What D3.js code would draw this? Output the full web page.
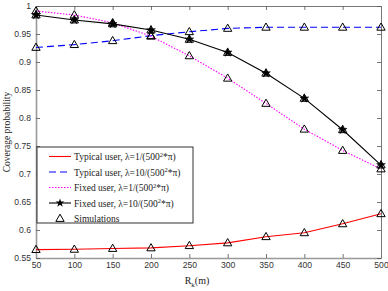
<!DOCTYPE html>
<html>
<head>
<meta charset="utf-8">
<script src="https://cdn.jsdelivr.net/npm/d3@7"></script>
<style>
  body { margin: 0; background: #fff; }
  svg { display: block; }
</style>
</head>
<body>
<div class="my-graph"></div>
<script>
const radius = [50, 100, 150, 200, 250, 300, 350, 400, 450, 500]
const typicalLow = [0.565, 0.5655, 0.567, 0.568, 0.572, 0.577, 0.588, 0.595, 0.611, 0.629]
const typicalHigh = [0.926, 0.931, 0.938, 0.947, 0.954, 0.960, 0.962, 0.962, 0.962, 0.962]
const fixedLow = [0.991, 0.984, 0.970, 0.946, 0.911, 0.871, 0.826, 0.780, 0.742, 0.709]
const fixedHigh = [0.984, 0.975, 0.968, 0.957, 0.9405, 0.917, 0.880, 0.835, 0.779, 0.716]
const xTicks = [50, 100, 150, 200, 250, 300, 350, 400, 450, 500]
const yTicks = [0.55, 0.6, 0.65, 0.7, 0.75, 0.8, 0.85, 0.9, 0.95, 1]

const width = 388
const height = 291
const margin = { top: 6, right: 7, bottom: 33, left: 36 }

const series = [
  { name: 'Typical user', lam: '1', values: typicalLow, color: '#ff0000', dash: null, width: 1.1, star: false },
  { name: 'Typical user', lam: '10', values: typicalHigh, color: '#0000ff', dash: '7,4', width: 1.1, star: false },
  { name: 'Fixed user', lam: '1', values: fixedLow, color: '#ff00ff', dash: '1.5,1.5', width: 1.1, star: false },
  { name: 'Fixed user', lam: '10', values: fixedHigh, color: '#000000', dash: null, width: 1.1, star: true }
]

const xScale = d3.scaleLinear()
  .domain([50, 500])
  .range([margin.left, width - margin.right])

const yScale = d3.scaleLinear()
  .domain([0.55, 1])
  .range([height - margin.bottom, margin.top])

const svg = d3.select('.my-graph')
  .append('svg')
  .attr('width', width)
  .attr('height', height)

// axes, ticks point inward
const tickFont = 'Liberation Sans, Arial, sans-serif'

const gx = svg.append('g')
  .attr('transform', `translate(0, ${height - margin.bottom})`)
  .call(d3.axisBottom(xScale).tickValues(xTicks).tickSizeInner(-4).tickSizeOuter(0).tickPadding(3.5))
const gxTop = svg.append('g')
  .attr('transform', `translate(0, ${margin.top})`)
  .call(d3.axisTop(xScale).tickValues(xTicks).tickSizeInner(-4).tickSizeOuter(0).tickFormat(''))
const gy = svg.append('g')
  .attr('transform', `translate(${margin.left}, 0)`)
  .call(d3.axisLeft(yScale).tickValues(yTicks).tickSizeInner(-4).tickSizeOuter(0).tickPadding(5)
    .tickFormat(d => d3.format('')(+d.toFixed(2))))
const gyRight = svg.append('g')
  .attr('transform', `translate(${width - margin.right}, 0)`)
  .call(d3.axisRight(yScale).tickValues(yTicks).tickSizeInner(-4).tickSizeOuter(0).tickFormat(''))

;[gx, gxTop, gy, gyRight].forEach(g => {
  g.selectAll('.domain').attr('stroke', '#777').attr('stroke-width', 1)
  g.selectAll('.tick line').attr('stroke', '#555').attr('stroke-width', 0.8)
  g.selectAll('text')
    .attr('fill', '#333')
    .style('font-family', tickFont)
    .style('font-size', '8.6px')
})
gx.select('.domain').attr('stroke', '#999').attr('stroke-width', 1.6)
gy.select('.domain').attr('stroke', '#999').attr('stroke-width', 1.6)

// axis labels
const serif = 'Liberation Serif, Times New Roman, serif'
const xLabel = svg.append('text')
  .attr('x', 197)
  .attr('y', 284)
  .attr('text-anchor', 'middle')
  .style('font-family', serif)
  .style('font-size', '10px')
  .attr('fill', '#222')
xLabel.append('tspan').text('R')
xLabel.append('tspan').attr('dy', 3).style('font-size', '7px').text('k')
xLabel.append('tspan').attr('dy', -3).text('(m)')

svg.append('text')
  .attr('transform', `translate(10, ${(margin.top + height - margin.bottom) / 2}) rotate(-90)`)
  .attr('text-anchor', 'middle')
  .style('font-family', serif)
  .style('font-size', '9.5px')
  .attr('fill', '#222')
  .text('Coverage probability')

// lines
const line = d3.line()
  .x((d, i) => xScale(radius[i]))
  .y(d => yScale(d))

const tri = d3.symbol().type(d3.symbolTriangle).size(30)
const star = d3.symbol().type(d3.symbolStar).size(24)

series.forEach(s => {
  svg.append('path')
    .datum(s.values)
    .attr('fill', 'none')
    .attr('stroke', s.color)
    .attr('stroke-width', s.width)
    .attr('stroke-dasharray', s.dash)
    .attr('d', line)
})

series.forEach(s => {
  if (s.star) {
    svg.selectAll(null)
      .data(s.values)
      .enter().append('path')
      .attr('transform', (d, i) => `translate(${xScale(radius[i])}, ${yScale(d)})`)
      .attr('d', star)
      .attr('fill', '#000')
      .attr('stroke', '#000')
      .attr('stroke-width', 0.5)
  }
  svg.selectAll(null)
    .data(s.values)
    .enter().append('path')
    .attr('transform', (d, i) => `translate(${xScale(radius[i])}, ${yScale(d) + 0.5})`)
    .attr('d', tri)
    .attr('fill', 'none')
    .attr('stroke', '#000')
    .attr('stroke-width', 1)
})

// legend
const legend = svg.append('g')
legend.append('rect')
  .attr('x', 37)
  .attr('y', 147)
  .attr('width', 156)
  .attr('height', 76)
  .attr('fill', '#fff')
  .attr('stroke', '#333')
  .attr('stroke-width', 1)

const rowY = i => 156.5 + i * 15.5

series.forEach((s, i) => {
  legend.append('line')
    .attr('x1', 49).attr('x2', 71)
    .attr('y1', rowY(i)).attr('y2', rowY(i))
    .attr('stroke', s.color)
    .attr('stroke-width', s.width)
    .attr('stroke-dasharray', s.dash)
  if (s.star) {
    legend.append('path')
      .attr('transform', `translate(60, ${rowY(i)})`)
      .attr('d', star)
      .attr('fill', '#000')
  }
  const t = legend.append('text')
    .attr('x', 74)
    .attr('y', rowY(i) + 3.5)
    .style('font-family', serif)
    .style('font-size', '9.5px')
    .attr('fill', '#222')
  t.append('tspan').text(`${s.name}, λ=${s.lam}/(500`)
  t.append('tspan').attr('dy', -3.5).style('font-size', '6.5px').text('2')
  t.append('tspan').attr('dy', 3.5).text('*π)')
})

legend.append('path')
  .attr('transform', `translate(60, ${rowY(4) + 0.5})`)
  .attr('d', tri)
  .attr('fill', 'none')
  .attr('stroke', '#000')
  .attr('stroke-width', 1)
legend.append('text')
  .attr('x', 74)
  .attr('y', rowY(4) + 3.5)
  .style('font-family', serif)
  .style('font-size', '9.5px')
  .attr('fill', '#222')
  .text('Simulations')
</script>
</body>
</html>
